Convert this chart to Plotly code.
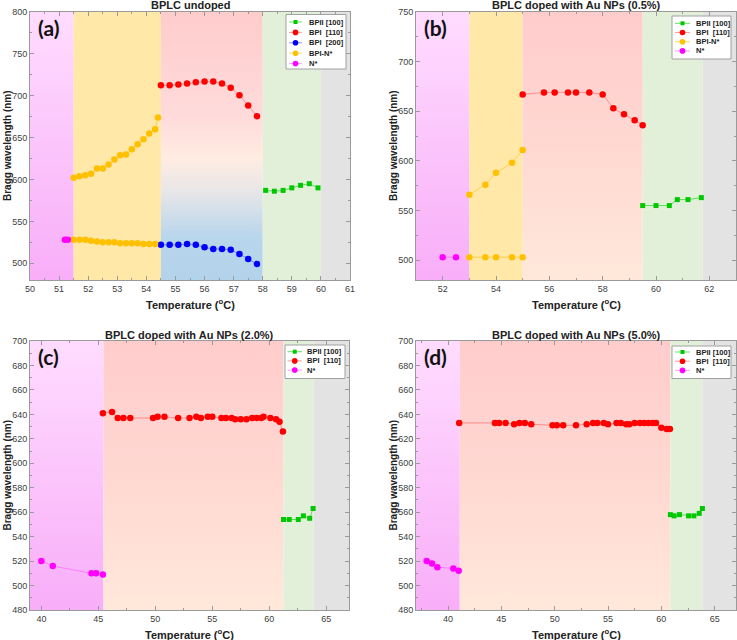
import plotly.graph_objects as go

# ---------------- DATA ----------------
# Panel (a) BPLC undoped
a_n_T = [51.2, 51.3]
a_n_v = [528, 528]
a_bpin_hi_T = [51.5, 51.7, 51.9, 52.1, 52.3, 52.5, 52.7, 52.9, 53.1, 53.3, 53.5, 53.7, 53.9, 54.1, 54.3, 54.4]
a_bpin_hi_v = [602, 604, 605, 607, 613, 613, 618, 624, 629, 630, 636, 642, 648, 655, 660, 674]
a_bpin_lo_T = [51.5, 51.7, 51.9, 52.1, 52.3, 52.5, 52.7, 52.9, 53.1, 53.3, 53.5, 53.7, 53.9, 54.1, 54.3]
a_bpin_lo_v = [528, 528, 528, 527, 526, 525, 525, 525, 524, 524, 524, 524, 523, 523, 523]
a_bpi110_T = [54.5, 54.8, 55.1, 55.4, 55.7, 56.0, 56.3, 56.6, 56.9, 57.2, 57.5, 57.8]
a_bpi110_v = [712.5, 712.5, 713.5, 714.5, 716, 717, 717, 714.5, 709.5, 700.5, 688.5, 675.5]
a_bpi200_T = [54.5, 54.8, 55.1, 55.4, 55.7, 56.0, 56.3, 56.6, 56.9, 57.2, 57.5, 57.8]
a_bpi200_v = [522, 522, 522, 523, 522, 519, 517, 517, 516, 511, 505, 499]
a_bpii_T = [58.1, 58.4, 58.7, 59.0, 59.3, 59.6, 59.9]
a_bpii_v = [587, 586, 587, 590, 593, 595, 590]
a_phase_edges = [50, 51.5, 54.5, 58, 60, 61]

# Panel (b) 0.5 %
b_n_T = [52.0, 52.5]
b_n_v = [503, 503]
b_bpin_hi_T = [53.0, 53.6, 54.0, 54.6, 55.0]
b_bpin_hi_v = [566, 576, 588, 598, 611]
b_bpin_lo_T = [53.0, 53.6, 54.0, 54.6, 55.0]
b_bpin_lo_v = [503, 503, 503, 503, 503]
b_bpi110_T = [55.0, 55.8, 56.2, 56.7, 57.0, 57.5, 58.0, 58.4, 58.8, 59.2, 59.5]
b_bpi110_v = [667, 669, 669, 669, 669, 669, 667, 653, 647, 641, 636]
b_bpii_T = [59.5, 60.0, 60.5, 60.8, 61.2, 61.7]
b_bpii_v = [555, 555, 555, 561, 561, 563]
b_phase_edges = [51, 53, 55, 59.5, 61.75, 63]

# Panel (c) 2.0 %
c_n_T = [40.0, 41.0, 44.4, 44.8, 45.4]
c_n_v = [520, 516, 510, 510, 509]
c_bpi110_T = [45.4, 46.2, 46.7, 47.2, 47.8, 49.8, 50.2, 50.8, 52.0, 53.0, 53.6, 54.0, 54.6, 55.0,
              55.8, 56.2, 56.7, 57.0, 57.5, 58.0, 58.5, 58.9, 59.3, 59.5, 60.1, 60.6, 60.9, 61.2]
c_bpi110_v = [641, 642, 637, 637, 637, 637, 638, 638, 637, 637, 638, 637, 638, 638,
              637, 637, 637, 636, 636, 636, 637, 637, 637, 638, 637, 636, 634, 626]
c_bpii_T = [61.25, 61.75, 62.55, 63.0, 63.55, 63.85]
c_bpii_v = [554, 554, 554, 557, 555, 563]
c_phase_edges = [39, 45.45, 61.25, 63.9, 67]

# Panel (d) 5.0 %
d_n_T = [38.0, 38.5, 39.0, 40.5, 41.0]
d_n_v = [520, 518, 515, 514, 512]
d_bpi110_T = [41.05, 44.4, 44.8, 45.4, 46.2, 46.7, 47.2, 47.8, 49.8, 50.2, 50.8, 52.0, 53.0, 53.6, 54.0,
              54.6, 55.0, 55.8, 56.2, 56.7, 57.0, 57.5, 58.0, 58.4, 58.8, 59.2, 59.5, 60.0, 60.5, 60.8]
d_bpi110_v = [633, 633, 633, 633, 632, 633, 633, 632, 631, 631, 631, 631, 632, 633, 633,
              633, 632, 633, 633, 632, 632, 633, 633, 633, 633, 633, 633, 629, 628, 628]
d_bpii_T = [60.85, 61.2, 61.7, 62.55, 63.05, 63.55, 63.85]
d_bpii_v = [558, 557, 558, 557, 557, 559, 563]
d_phase_edges = [37, 41.1, 60.85, 63.85, 67]

titles = ["BPLC undoped", "BPLC doped with Au NPs (0.5%)",
          "BPLC doped with Au NPs (2.0%)", "BPLC doped with Au NPs (5.0%)"]
panel_labels = ["(a)", "(b)", "(c)", "(d)"]

# ---------------- STYLE ----------------
W, H = 737, 640
FONT = "Liberation Sans"
C_RED, C_BLUE, C_YEL, C_MAG, C_GRN = "#FF0000", "#0000FF", "#FFC000", "#FF00FF", "#00C800"
L_RED, L_BLUE, L_YEL, L_MAG, L_GRN = ("rgba(255,90,90,0.6)", "rgba(80,80,255,0.6)",
                                      "rgba(255,200,40,0.7)", "rgba(255,90,255,0.6)", "rgba(40,210,40,0.7)")

PINK = [[0, "#F8AEF8"], [1, "#FFDCFF"]]
YEL = [[0, "#FFE8A8"], [1, "#FFE8A8"]]
RED_A = [[0, "#B3D3EB"], [0.16, "#B8D6EC"], [0.33, "#E8E6E8"], [0.45, "#FFECE2"], [0.62, "#FFDADA"], [1, "#FFCCCC"]]
RED_B = [[0, "#FFE8DA"], [0.5, "#FFD8D2"], [1, "#FFCCCC"]]
GRN = [[0, "#E2F0DA"], [1, "#E2F0DA"]]
GRY = [[0, "#E3E3E3"], [1, "#E3E3E3"]]


def px_x(x):
    return x / W


def px_y(y):
    return 1 - y / H


panels = [
    dict(dom_x=(30, 350), dom_y=(12, 280), xr=(50, 61), yr=(480, 800), xd=1, yd=50, y0=500,
         edges=a_phase_edges, fills=[PINK, YEL, RED_A, GRN, GRY],
         leg=dict(box=(286, 14.5, 346, 69), row0=22, step=10.4, sx=(289, 302), tx=307)),
    dict(dom_x=(416, 736), dom_y=(12, 280), xr=(51, 63), yr=(480, 750), xd=2, yd=50, y0=500,
         edges=b_phase_edges, fills=[PINK, YEL, RED_B, GRN, GRY],
         leg=dict(box=(672, 16, 731, 59), row0=23.3, step=9.2, sx=(675, 690), tx=694)),
    dict(dom_x=(30, 349), dom_y=(341, 610), xr=(39, 67), yr=(480, 700), xd=5, yd=20, y0=480,
         edges=c_phase_edges, fills=[PINK, RED_B, GRN, GRY],
         leg=dict(box=(285, 345, 345, 378.5), row0=351.7, step=9.2, sx=(287.5, 302), tx=305)),
    dict(dom_x=(416, 736), dom_y=(341, 610), xr=(37, 67), yr=(480, 700), xd=5, yd=20, y0=480,
         edges=d_phase_edges, fills=[PINK, RED_B, GRN, GRY],
         leg=dict(box=(672, 346, 731, 378.5), row0=352, step=9.2, sx=(675, 690), tx=694)),
]

series = [
    [("BPII [100]", a_bpii_T, a_bpii_v, C_GRN, L_GRN, "square", True),
     ("BPI  [110]", a_bpi110_T, a_bpi110_v, C_RED, L_RED, "circle", True),
     ("BPI  [200]", a_bpi200_T, a_bpi200_v, C_BLUE, L_BLUE, "circle", True),
     ("BPI-N*", a_bpin_hi_T, a_bpin_hi_v, C_YEL, L_YEL, "circle", True),
     ("BPI-N*", a_bpin_lo_T, a_bpin_lo_v, C_YEL, L_YEL, "circle", False),
     ("N*", a_n_T, a_n_v, C_MAG, L_MAG, "circle", True)],
    [("BPII [100]", b_bpii_T, b_bpii_v, C_GRN, L_GRN, "square", True),
     ("BPI  [110]", b_bpi110_T, b_bpi110_v, C_RED, L_RED, "circle", True),
     ("BPI-N*", b_bpin_hi_T, b_bpin_hi_v, C_YEL, L_YEL, "circle", True),
     ("BPI-N*", b_bpin_lo_T, b_bpin_lo_v, C_YEL, L_YEL, "circle", False),
     ("N*", b_n_T, b_n_v, C_MAG, L_MAG, "circle", True)],
    [("BPII [100]", c_bpii_T, c_bpii_v, C_GRN, L_GRN, "square", True),
     ("BPI  [110]", c_bpi110_T, c_bpi110_v, C_RED, L_RED, "circle", True),
     ("N*", c_n_T, c_n_v, C_MAG, L_MAG, "circle", True)],
    [("BPII [100]", d_bpii_T, d_bpii_v, C_GRN, L_GRN, "square", True),
     ("BPI  [110]", d_bpi110_T, d_bpi110_v, C_RED, L_RED, "circle", True),
     ("N*", d_n_T, d_n_v, C_MAG, L_MAG, "circle", True)],
]

fig = go.Figure()
layout = dict(width=W, height=H, margin=dict(l=0, r=0, t=0, b=0), showlegend=False,
              paper_bgcolor="white", plot_bgcolor="white",
              font=dict(family=FONT, size=9, color="#404040"))
annotations = []
shapes = []

for i, p in enumerate(panels):
    k = "" if i == 0 else str(i + 1)
    xa, ya = "x" + k, "y" + k
    # background phase bands (gradient fills)
    e = p["edges"]
    for j in range(len(e) - 1):
        fig.add_trace(go.Scatter(
            x=[e[j], e[j + 1], e[j + 1], e[j], e[j]],
            y=[p["yr"][0], p["yr"][0], p["yr"][1], p["yr"][1], p["yr"][0]],
            mode="none", fill="toself",
            fillgradient=dict(type="vertical", colorscale=p["fills"][j],
                              start=p["yr"][0], stop=p["yr"][1]),
            showlegend=False, hoverinfo="skip", xaxis=xa, yaxis=ya))
    # data
    for (name, T, v, mc, lc, sym, show) in series[i]:
        fig.add_trace(go.Scatter(
            x=T, y=v, mode="lines+markers", name=name, showlegend=False,
            line=dict(color=lc, width=1),
            marker=dict(color=mc, symbol=sym, size=5 if sym == "square" else 6.5,
                        line=dict(width=0)),
            xaxis=xa, yaxis=ya))

    axcommon = dict(showline=True, linecolor="#9a9a9a", linewidth=1, mirror="allticks",
                    ticks="inside", ticklen=4, tickcolor="#9a9a9a", showgrid=False,
                    zeroline=False, automargin=False,
                    tickfont=dict(family=FONT, size=9, color="#404040"))
    layout["xaxis" + k] = dict(axcommon, domain=[px_x(p["dom_x"][0]), px_x(p["dom_x"][1])],
                               range=list(p["xr"]), anchor=ya, dtick=p["xd"], tick0=0,
                               minor=dict(ticks="inside", ticklen=2, dtick=p["xd"] / 2,
                                          tickcolor="#9a9a9a"))
    layout["yaxis" + k] = dict(axcommon, domain=[px_y(p["dom_y"][1]), px_y(p["dom_y"][0])],
                               range=list(p["yr"]), anchor=xa, dtick=p["yd"], tick0=p["y0"],
                               minor=dict(ticks="inside", ticklen=2, dtick=p["yd"] / 2,
                                          tickcolor="#9a9a9a"))

    # legend box drawn as shapes + text
    lg = p["leg"]
    bx0, by0, bx1, by1 = lg["box"]
    shapes.append(dict(type="rect", xref="paper", yref="paper", x0=px_x(bx0), x1=px_x(bx1),
                       y0=px_y(by1), y1=px_y(by0), fillcolor="white",
                       line=dict(color="#a0a0a0", width=1)))
    row = 0
    for (name, T, v, mc, lc, sym, show) in series[i]:
        if not show:
            continue
        yy = lg["row0"] + row * lg["step"]
        sx0, sx1 = lg["sx"]
        smid = (sx0 + sx1) / 2
        shapes.append(dict(type="line", xref="paper", yref="paper", x0=px_x(sx0), x1=px_x(sx1),
                           y0=px_y(yy), y1=px_y(yy), line=dict(color=lc, width=1)))
        r = 2.0 if sym == "square" else 2.8
        shapes.append(dict(type="rect" if sym == "square" else "circle", xref="paper", yref="paper",
                           x0=px_x(smid - r), x1=px_x(smid + r), y0=px_y(yy + r), y1=px_y(yy - r),
                           fillcolor=mc, line=dict(width=0)))
        annotations.append(dict(text="<b>" + name.replace("  ", "&nbsp; ") + "</b>",
                                x=px_x(lg["tx"]), y=px_y(yy), xref="paper", yref="paper",
                                xanchor="left", yanchor="middle", showarrow=False,
                                font=dict(family=FONT, size=7.5, color="#222222")))
        row += 1

    cx = (p["dom_x"][0] + p["dom_x"][1]) / 2
    # title
    annotations.append(dict(text="<b>" + titles[i] + "</b>", x=px_x(cx), y=px_y(p["dom_y"][0] - 6.5),
                            xref="paper", yref="paper", showarrow=False,
                            xanchor="center", yanchor="middle",
                            font=dict(family=FONT, size=11, color="#222222")))
    # x title
    annotations.append(dict(text="<b>Temperature (<sup>o</sup>C)</b>", x=px_x(cx),
                            y=px_y(p["dom_y"][1] + 24), xref="paper", yref="paper", showarrow=False,
                            xanchor="center", yanchor="middle",
                            font=dict(family=FONT, size=11, color="#222222")))
    # y title
    annotations.append(dict(text="<b>Bragg wavelength (nm)</b>", x=px_x(p["dom_x"][0] - 23),
                            y=px_y((p["dom_y"][0] + p["dom_y"][1]) / 2), xref="paper", yref="paper",
                            showarrow=False, textangle=-90, xanchor="center", yanchor="middle",
                            font=dict(family=FONT, size=10, color="#222222")))
    # panel label
    annotations.append(dict(text="<b>" + panel_labels[i] + "</b>", x=px_x(p["dom_x"][0] + 6),
                            y=px_y(p["dom_y"][0] + 15), xref="paper", yref="paper", showarrow=False,
                            xanchor="left", yanchor="middle",
                            font=dict(family="Lato", size=21, color="#111111")))

layout["annotations"] = annotations
layout["shapes"] = shapes
fig.update_layout(**layout)
fig.write_html("out.html", config={"displayModeBar": False},
               post_script="document.body.style.margin='0';")
